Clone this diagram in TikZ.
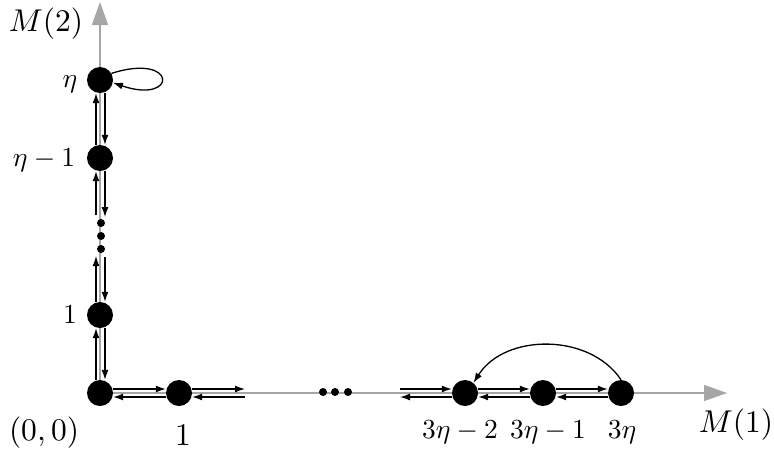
\documentclass[tikz,border=0pt]{standalone}
\usetikzlibrary{arrows.meta}
\newcommand{\biglbl}[1]{\scalebox{3.15}{$#1$}}
\newcommand{\smalllbl}[1]{\scalebox{2.75}{$#1$}}
\begin{document}
\begin{tikzpicture}[x=1pt,y=-1pt,
  state/.style={circle,fill=black,inner sep=0pt,minimum size=26pt},
  dotn/.style={circle,fill=black,inner sep=0pt,minimum size=8pt},
  axis/.style={draw=black!35,line width=1.4pt,-{Triangle[length=23pt,width=16pt]}},
  arr/.style={draw=black,line width=1.3pt,-{Latex[length=10pt,width=7pt]}},
  lab/.style={inner sep=0pt,anchor=base}]
\useasboundingbox (0,0) rectangle (774,451);
% axes
\coordinate (ax0) at (100,393);
\coordinate (axx) at (727,393);
\coordinate (axy) at (100,2);
\draw[axis] (ax0) -- (axx);
\draw[axis] (ax0) -- (axy);
% states
\node[state] (o) at (100,393) {};
\node[state] (v1) at (100,315) {};
\node[state] (v2) at (100,158) {};
\node[state] (v3) at (100,80) {};
\node[state] (h1) at (179,393) {};
\node[state] (hA) at (465,393) {};
\node[state] (hB) at (543,393) {};
\node[state] (hC) at (621,393) {};
% dots
\node[dotn] (d1) at (101,223) {};
\node[dotn] (d2) at (101,236) {};
\node[dotn] (d3) at (101,249) {};
\node[dotn] (e1) at (323,392) {};
\node[dotn] (e2) at (335,392) {};
\node[dotn] (e3) at (348,392) {};
% free ends
\coordinate (r1) at (245,389);
\coordinate (l1) at (245,397);
\coordinate (r2) at (400,389);
\coordinate (l2) at (400,397);
\coordinate (u1) at (96,256);
\coordinate (w1) at (105,257);
\coordinate (u2) at (96,215);
\coordinate (w2) at (105,217);
% horizontal arrows
\draw[arr] ([yshift=4pt]o.east) -- ([yshift=4pt]h1.west);
\draw[arr] ([yshift=-4pt]h1.west) -- ([yshift=-4pt]o.east);
\draw[arr] ([yshift=4pt]h1.east) -- (r1);
\draw[arr] (l1) -- ([yshift=-4pt]h1.east);
\draw[arr] (r2) -- ([yshift=4pt]hA.west);
\draw[arr] ([yshift=-4pt]hA.west) -- (l2);
\draw[arr] ([yshift=4pt]hA.east) -- ([yshift=4pt]hB.west);
\draw[arr] ([yshift=-4pt]hB.west) -- ([yshift=-4pt]hA.east);
\draw[arr] ([yshift=4pt]hB.east) -- ([yshift=4pt]hC.west);
\draw[arr] ([yshift=-4pt]hC.west) -- ([yshift=-4pt]hB.east);
% vertical arrows
\draw[arr] ([xshift=-4pt]o.north) -- ([xshift=-4pt]v1.south);
\draw[arr] ([xshift=5pt]v1.south) -- ([xshift=5pt]o.north);
\draw[arr] ([xshift=-4pt]v1.north) -- (u1);
\draw[arr] (w1) -- ([xshift=5pt]v1.north);
\draw[arr] ([xshift=5pt]v2.south) -- (w2);
\draw[arr] (u2) -- ([xshift=-4pt]v2.south);
\draw[arr] ([xshift=-4pt]v2.north) -- ([xshift=-4pt]v3.south);
\draw[arr] ([xshift=5pt]v3.south) -- ([xshift=5pt]v2.north);
% self loop
\draw[arr] (v3.30) .. controls (178,52) and (178,105) .. (v3.-12);
% curved arrow
\draw[arr] (hC.north) .. controls (590,333) and (505,333) .. (hA.50);
% labels
\node[lab] (lm2) at (46,31) {\biglbl{M(2)}};
\node[lab] (leta) at (70,87) {\smalllbl{\eta}};
\node[lab] (letam) at (44,166) {\smalllbl{\eta-1}};
\node[lab] (lone) at (70,323) {\smalllbl{1}};
\node[lab] (lorig) at (44,440) {\biglbl{(0,0)}};
\node[lab] (lh1) at (183,445) {\biglbl{1}};
\node[lab] (lA) at (460,438) {\smalllbl{3\eta-2}};
\node[lab] (lB) at (548,438) {\smalllbl{3\eta-1}};
\node[lab] (lC) at (622,438) {\smalllbl{3\eta}};
\node[lab] (lm1) at (736,432) {\biglbl{M(1)}};
\end{tikzpicture}
\end{document}
